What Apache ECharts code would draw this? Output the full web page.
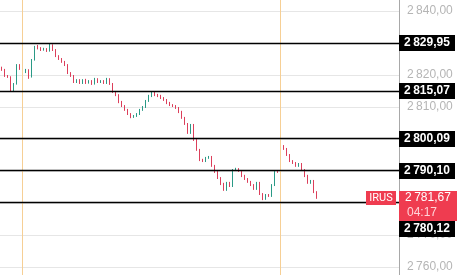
<!DOCTYPE html>
<html><head><meta charset="utf-8">
<script src="https://cdn.jsdelivr.net/npm/echarts@6/dist/echarts.min.js"></script>
<style>html,body{margin:0;padding:0;background:#fff}#c{width:460px;height:275px}</style>
</head><body><div id="c"></div>
<script>
// OHLC candles: [open, close, low, high]
const candles = [
[2822.2,2821.6,2821.3,2822.6],[2821.6,2819.7,2819.4,2821.9],[2819.7,2819.4,2819.1,2820.0],[2819.4,2815.3,2814.7,2819.6],
[2815.3,2817.2,2815.0,2817.5],[2817.2,2823.1,2817.0,2823.4],[2823.1,2821.9,2821.6,2823.4],[2821.9,2820.9,2820.5,2822.2],
[2820.9,2821.6,2820.6,2821.9],[2821.6,2819.4,2818.8,2821.8],[2819.4,2824.7,2819.2,2825.0],[2824.7,2828.8,2824.5,2829.1],
[2828.8,2828.4,2828.0,2829.4],[2828.4,2827.8,2827.5,2828.7],[2827.8,2828.1,2827.6,2828.5],[2828.1,2827.5,2827.2,2828.4],
[2827.5,2829.4,2827.3,2829.7],[2829.4,2827.8,2827.5,2829.6],[2827.8,2825.9,2825.6,2828.1],[2825.9,2825.0,2824.7,2826.2],
[2825.0,2824.1,2823.8,2825.3],[2824.1,2823.1,2822.8,2824.4],[2823.1,2820.6,2820.3,2823.4],[2820.6,2819.7,2819.4,2820.9],
[2819.7,2817.8,2817.5,2820.0],[2817.8,2818.4,2817.5,2818.7],[2818.4,2817.5,2817.2,2818.7],[2817.5,2818.4,2817.2,2818.7],
[2818.4,2817.5,2817.2,2818.8],[2817.5,2818.1,2817.3,2818.4],[2818.1,2817.2,2816.9,2818.4],[2817.2,2818.8,2817.0,2819.1],
[2818.8,2817.8,2817.5,2819.0],[2817.8,2818.1,2817.5,2818.4],[2818.1,2817.5,2817.2,2818.4],[2817.5,2818.8,2817.2,2819.1],
[2818.8,2817.2,2816.9,2819.0],[2817.2,2814.7,2814.4,2817.5],[2814.7,2813.8,2813.4,2815.0],[2813.8,2811.6,2811.2,2814.0],
[2811.6,2810.3,2810.0,2811.9],[2810.3,2809.1,2808.8,2810.6],[2809.1,2807.8,2807.5,2809.4],[2807.8,2806.9,2806.5,2808.1],
[2806.9,2807.2,2806.6,2807.5],[2807.2,2807.8,2806.9,2808.1],[2807.8,2809.1,2807.5,2809.4],[2809.1,2810.0,2808.8,2810.3],
[2810.0,2811.9,2809.7,2812.2],[2811.9,2813.4,2811.6,2813.8],[2813.4,2814.7,2813.1,2815.0],[2814.7,2813.8,2813.4,2815.0],
[2813.8,2813.4,2813.1,2814.1],[2813.4,2812.8,2812.5,2813.8],[2812.8,2812.2,2811.9,2813.1],[2812.2,2811.3,2810.9,2812.5],
[2811.3,2810.6,2810.3,2811.6],[2810.6,2810.3,2810.0,2810.9],[2810.3,2809.7,2809.4,2810.6],[2809.7,2808.4,2808.1,2810.0],
[2808.4,2806.6,2806.3,2808.8],[2806.6,2804.7,2804.4,2806.9],[2804.7,2801.9,2801.6,2805.0],[2801.9,2804.4,2801.6,2804.7],
[2804.4,2799.7,2799.4,2804.7],[2799.7,2796.6,2796.3,2800.0],[2796.6,2793.4,2793.1,2796.9],[2793.4,2793.1,2792.8,2793.8],
[2793.1,2794.1,2792.8,2794.4],[2794.1,2794.4,2793.8,2794.7],[2794.4,2791.6,2791.3,2794.7],[2791.6,2789.7,2789.4,2791.9],
[2789.7,2787.8,2787.5,2790.0],[2787.8,2785.9,2785.6,2788.1],[2785.9,2784.1,2783.8,2786.3],[2784.1,2786.3,2783.8,2786.6],
[2786.3,2785.3,2785.0,2786.6],[2785.3,2790.3,2785.0,2790.6],[2790.3,2790.6,2790.0,2791.0],[2790.6,2790.0,2789.7,2790.9],
[2790.0,2788.4,2788.1,2790.3],[2788.4,2787.5,2787.2,2788.8],[2787.5,2786.6,2786.3,2787.8],[2786.6,2785.6,2785.3,2786.9],
[2785.6,2784.4,2784.1,2785.9],[2784.4,2786.3,2784.1,2786.6],[2786.3,2782.8,2782.5,2786.6],[2782.8,2781.3,2780.9,2783.1],
[2781.3,2782.5,2781.0,2782.8],[2782.5,2782.2,2781.9,2782.8],[2782.2,2785.6,2781.9,2785.9],[2785.6,2790.0,2785.3,2790.3],
[2790.0,2789.7,2789.4,2790.3],[2794.7,2797.5,2794.4,2797.8],[2797.8,2796.9,2796.6,2798.1],[2796.9,2795.0,2794.7,2797.2],
[2795.0,2793.1,2792.8,2795.3],[2793.1,2792.5,2792.2,2793.4],[2792.5,2791.6,2791.3,2792.8],[2791.6,2792.2,2791.3,2792.5],
[2792.2,2790.3,2790.0,2792.5],[2790.3,2788.4,2788.1,2790.6],[2788.4,2786.3,2786.0,2788.8],[2786.3,2786.9,2786.0,2787.2],
[2786.9,2783.4,2783.1,2787.2],[2783.4,2781.67,2781.3,2783.7]
];
const slotCount = 133;            // visible bar slots across the plot
const levels = [2829.95, 2815.07, 2800.09, 2790.10, 2780.12];
const markerSlots = [7, 93];      // orange vertical lines
const ticker = 'IRUS';
const lastPrice = 2781.67;
const timer = '04:17';
const yTicks = [2750, 2760, 2770, 2780, 2790, 2800, 2810, 2820, 2830, 2840, 2850];

const categories = [];
for (let i = 0; i < slotCount; i++) categories.push(String(i));

function fmt(v) {
  const s = v.toFixed(2).replace('.', ',');
  const [ip, dp] = s.split(',');
  return ip.slice(0, ip.length - 3) + '\u2009' + ip.slice(ip.length - 3) + ',' + dp;
}

const chart = echarts.init(document.getElementById('c'), null, {renderer: 'canvas'});
const FONT = '"Liberation Sans", Arial, sans-serif';
chart.setOption({
  animation: false,
  grid: {left: 0, right: 61, top: -21, height: 320, outerBoundsMode: 'none', containLabel: false},
  xAxis: {type: 'category', data: categories, boundaryGap: true,
    axisLine: {show: false}, axisTick: {show: false}, axisLabel: {show: false}, splitLine: {show: false}},
  yAxis: {type: 'value', position: 'right', min: yTicks[0], max: yTicks[yTicks.length - 1], interval: 10, scale: true,
    axisLine: {show: true, lineStyle: {color: '#a8a8a8', width: 1}},
    axisTick: {show: false},
    axisLabel: {color: '#b5b5b5', fontSize: 12, fontFamily: FONT, margin: 8, formatter: v => fmt(v)},
    splitLine: {show: true, lineStyle: {color: '#e6e6e6', width: 1}}},
  series: [{
    type: 'candlestick', data: candles, barWidth: 1,
    itemStyle: {color: '#2a9a86', color0: '#dc3f5b', borderColor: '#2a9a86', borderColor0: '#dc3f5b', borderWidth: 1},
    markLine: {symbol: 'none', silent: true, animation: false, label: {show: false},
      data: [
        ...markerSlots.map(s => ({xAxis: String(s), lineStyle: {color: '#f6cf95', width: 1, type: 'solid'}})),
        ...levels.map(v => ({yAxis: v, lineStyle: {color: '#000', width: 1.3, type: 'solid'}}))
      ]}
  }]
});

function draw() {
  const els = [];
  const ax = 399;
  const pyLast = chart.convertToPixel({yAxisIndex: 0}, lastPrice);
  const redTop = Math.round(pyLast) - 7;
  const redH = 30;
  els.push({type: 'rect', shape: {x: ax, y: redTop, width: 58, height: redH}, style: {fill: '#ef3c50'}, z: 100});
  els.push({type: 'text', x: ax + 29, y: redTop + 7, style: {text: fmt(lastPrice), fill: '#fff', font: '12px ' + FONT, align: 'center', verticalAlign: 'middle'}, z: 101});
  els.push({type: 'text', x: ax + 8, y: redTop + 22, style: {text: timer, fill: '#ffd3d8', font: '12px ' + FONT, align: 'left', verticalAlign: 'middle'}, z: 101});
  els.push({type: 'rect', shape: {x: 366, y: redTop, width: 30, height: 14}, style: {fill: '#ef3c50'}, z: 100});
  els.push({type: 'text', x: 381, y: redTop + 7, style: {text: ticker, fill: '#fff', font: '11px Roboto, ' + FONT, align: 'center', verticalAlign: 'middle'}, z: 101});
  levels.forEach(v => {
    let cy = chart.convertToPixel({yAxisIndex: 0}, v);
    if (cy > redTop - 8 && cy < redTop + redH + 8) cy = redTop + redH + 8;
    els.push({type: 'rect', shape: {x: ax, y: Math.round(cy) - 8, width: 56, height: 16}, style: {fill: '#000'}, z: 90});
    els.push({type: 'text', x: ax + 28, y: Math.round(cy), style: {text: fmt(v), fill: '#fff', font: 'bold 12px ' + FONT, align: 'center', verticalAlign: 'middle'}, z: 91});
  });
  chart.setOption({graphic: {elements: els}});
}
draw();
</script></body></html>
